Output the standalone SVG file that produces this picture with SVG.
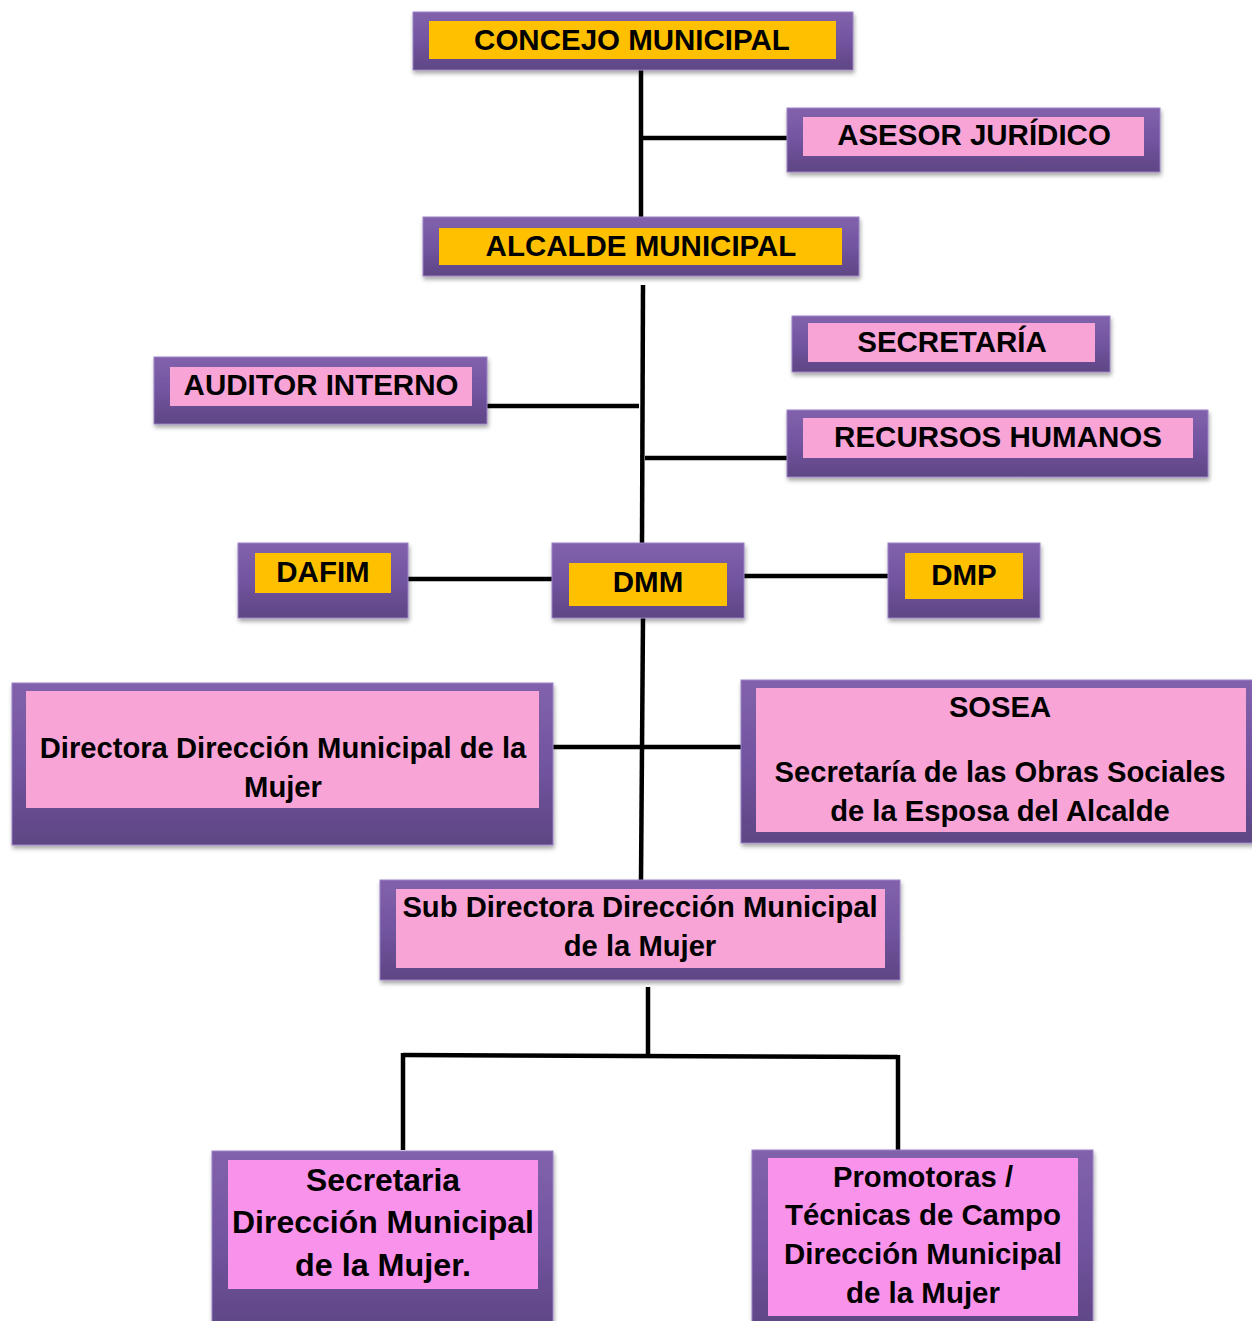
<svg xmlns="http://www.w3.org/2000/svg" width="1252" height="1321" viewBox="0 0 1252 1321">
<defs>
<linearGradient id="frame" x1="0" y1="0" x2="0" y2="1">
<stop offset="0" stop-color="#8262AC"/>
<stop offset="0.5" stop-color="#7254A0"/>
<stop offset="1" stop-color="#5E4684"/>
</linearGradient>
<filter id="sh" x="-5%" y="-10%" width="110%" height="130%">
<feDropShadow dx="1" dy="3" stdDeviation="2" flood-color="#000" flood-opacity="0.35"/>
</filter>
<style>
.f{fill:url(#frame);filter:url(#sh);stroke:#9C82C6;stroke-width:1}
.y{fill:#FFC000}
.p{fill:#F8A4D6}
.m{fill:#F992EA}
text{font-family:"Liberation Sans",Arial,sans-serif;font-weight:bold;fill:#000;text-anchor:middle}
.c{stroke:#000;stroke-width:4.5;fill:none}
</style>
</defs>
<g id="connectors">
<line class="c" x1="641" y1="70" x2="641" y2="217"/>
<line class="c" x1="641" y1="138" x2="788" y2="138"/>
<line class="c" x1="643" y1="285" x2="642" y2="543"/>
<line class="c" x1="487" y1="406" x2="639" y2="406"/>
<line class="c" x1="645" y1="458" x2="788" y2="458"/>
<line class="c" x1="408" y1="579" x2="552" y2="579"/>
<line class="c" x1="744" y1="576" x2="888" y2="576"/>
<line class="c" x1="643" y1="618" x2="641" y2="880"/>
<line class="c" x1="553" y1="747" x2="741" y2="747"/>
<line class="c" x1="648" y1="987" x2="648" y2="1057"/>
<line class="c" x1="403" y1="1055" x2="898" y2="1057"/>
<line class="c" x1="403" y1="1053" x2="403" y2="1150"/>
<line class="c" x1="898" y1="1055" x2="898" y2="1150"/>
</g>
<g id="concejo">
<rect class="f" x="413" y="12" width="440" height="58"/>
<rect class="y" x="429" y="21" width="407" height="38"/>
<text x="632" y="50" font-size="29.5">CONCEJO MUNICIPAL</text>
</g>
<g id="asesor">
<rect class="f" x="787" y="108" width="373" height="64"/>
<rect class="p" x="803" y="117" width="341" height="39"/>
<text x="974" y="145" font-size="29.5">ASESOR JURÍDICO</text>
</g>
<g id="alcalde">
<rect class="f" x="423" y="217" width="436" height="59"/>
<rect class="y" x="439" y="228" width="403" height="37"/>
<text x="641" y="256" font-size="29.5">ALCALDE MUNICIPAL</text>
</g>
<g id="secretaria-top">
<rect class="f" x="792" y="316" width="318" height="56"/>
<rect class="p" x="808" y="323" width="287" height="39"/>
<text x="952" y="352" font-size="29.5">SECRETARÍA</text>
</g>
<g id="auditor">
<rect class="f" x="154" y="357" width="333" height="67"/>
<rect class="p" x="170" y="367" width="302" height="39"/>
<text x="321" y="395" font-size="29.5">AUDITOR INTERNO</text>
</g>
<g id="rrhh">
<rect class="f" x="787" y="410" width="421" height="67"/>
<rect class="p" x="803" y="418" width="390" height="40"/>
<text x="998" y="447" font-size="29.5">RECURSOS HUMANOS</text>
</g>
<g id="dafim">
<rect class="f" x="238" y="543" width="170" height="75"/>
<rect class="y" x="255" y="553" width="136" height="40"/>
<text x="323" y="582" font-size="29.5">DAFIM</text>
</g>
<g id="dmm">
<rect class="f" x="552" y="543" width="192" height="75"/>
<rect class="y" x="569" y="563" width="158" height="43"/>
<text x="648" y="592" font-size="29.5">DMM</text>
</g>
<g id="dmp">
<rect class="f" x="888" y="543" width="152" height="75"/>
<rect class="y" x="905" y="553" width="118" height="46"/>
<text x="964" y="585" font-size="29.5">DMP</text>
</g>
<g id="directora">
<rect class="f" x="12" y="683" width="541" height="162"/>
<rect class="p" x="26" y="691" width="513" height="117"/>
<text x="283" y="758" font-size="29.2">Directora Dirección Municipal de la</text>
<text x="283" y="797" font-size="29.2">Mujer</text>
</g>
<g id="sosea">
<rect class="f" x="741" y="680" width="520" height="163"/>
<rect class="p" x="756" y="688" width="490" height="144"/>
<text x="1000" y="717" font-size="29.2">SOSEA</text>
<text x="1000" y="782" font-size="29.2">Secretaría de las Obras Sociales</text>
<text x="1000" y="821" font-size="29.2">de la Esposa del Alcalde</text>
</g>
<g id="subdirectora">
<rect class="f" x="380" y="880" width="520" height="100"/>
<rect class="p" x="396" y="889" width="489" height="79"/>
<text x="640" y="917" font-size="29.2">Sub Directora Dirección Municipal</text>
<text x="640" y="956" font-size="29.2">de la Mujer</text>
</g>
<g id="secretaria-dmm">
<rect class="f" x="212" y="1151" width="341" height="180"/>
<rect class="m" x="228" y="1160" width="310" height="129"/>
<text x="383" y="1191" font-size="31" textLength="154" lengthAdjust="spacingAndGlyphs">Secretaria</text>
<text x="383" y="1233" font-size="31" textLength="302" lengthAdjust="spacingAndGlyphs">Dirección Municipal</text>
<text x="383" y="1276" font-size="31" textLength="176" lengthAdjust="spacingAndGlyphs">de la Mujer.</text>
</g>
<g id="promotoras">
<rect class="f" x="752" y="1150" width="341" height="181"/>
<rect class="m" x="768" y="1158" width="310" height="158"/>
<text x="923" y="1187" font-size="29" textLength="180" lengthAdjust="spacingAndGlyphs">Promotoras /</text>
<text x="923" y="1225" font-size="29" textLength="276" lengthAdjust="spacingAndGlyphs">Técnicas de Campo</text>
<text x="923" y="1264" font-size="29" textLength="278" lengthAdjust="spacingAndGlyphs">Dirección Municipal</text>
<text x="923" y="1303" font-size="29" textLength="154" lengthAdjust="spacingAndGlyphs">de la Mujer</text>
</g>
</svg>
